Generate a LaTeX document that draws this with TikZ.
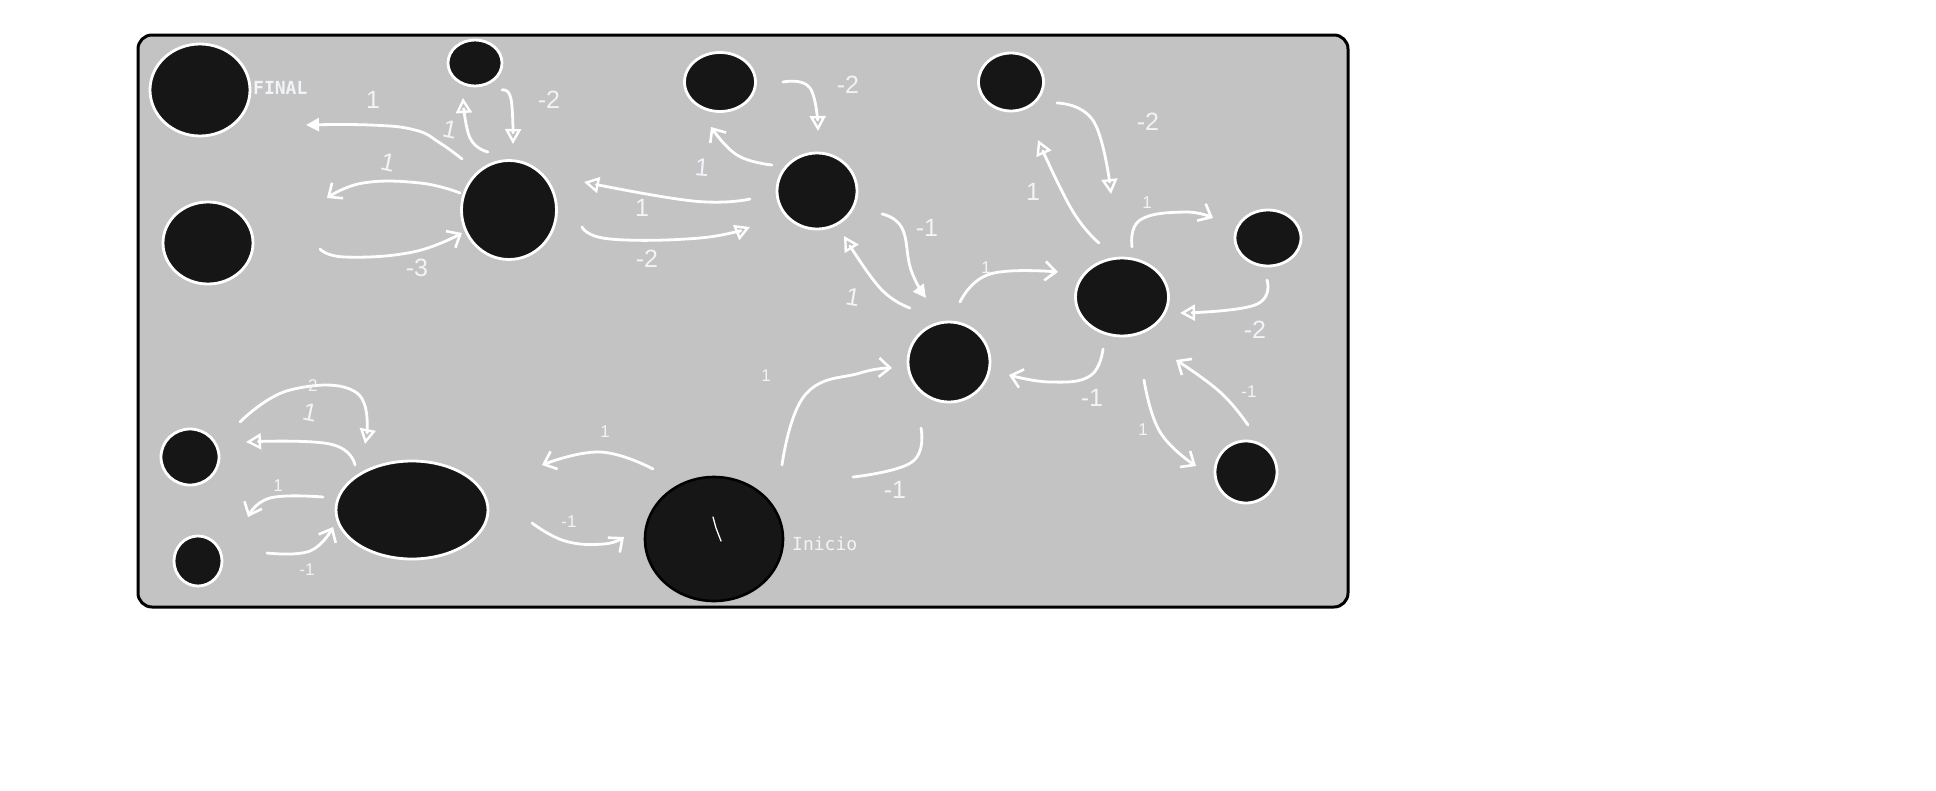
\documentclass[tikz,border=0pt]{standalone}
\usepackage{fontspec}
\setmainfont{Liberation Sans}
\newfontfamily\monof{DejaVu Sans Mono}
\usetikzlibrary{shapes.geometric,arrows.meta}
\definecolor{bgc}{HTML}{C3C3C3}
\definecolor{nodec}{HTML}{161616}
\definecolor{labc}{HTML}{F2F4F8}
\tikzset{
  stnode/.style={ellipse, draw=white, line width=2.8pt, fill=nodec, inner sep=0pt},
  wire/.style={draw=white, line width=2.8pt, line cap=round, line join=round},
  tipopen/.style={-{Triangle[open,length=15pt,width=16pt,line width=2.4pt]}},
  tipfill/.style={-{Triangle[length=13pt,width=13pt]}},
  tipbarb/.style={-{Straight Barb[length=11pt,width=19pt,line width=2.6pt]}},
  hand/.style={text=labc, font=\fontsize{25}{27}\selectfont, inner sep=0pt},
  typed/.style={text=labc, font=\fontsize{17}{19}\selectfont, inner sep=0pt},
  tag/.style={text=labc, font=\monof\fontsize{18}{20}\selectfont, inner sep=0pt}
}
\begin{document}
\begin{tikzpicture}[x=1pt,y=-1pt]
\useasboundingbox (0,0) rectangle (1936,790);
\fill[white] (0,0) rectangle (1936,790);
\draw[black, line width=3pt, fill=bgc, rounded corners=14pt] (138,35) rectangle (1348,607);

% nodes
\node[stnode, minimum width=100pt, minimum height=92pt] (fin) at (200,90) {};
\node[stnode, minimum width=90pt, minimum height=82pt] (l2) at (208,243) {};
\node[stnode, minimum width=54pt, minimum height=46pt] (atop) at (475,63) {};
\node[stnode, minimum width=95pt, minimum height=99pt] (A) at (509,210) {};
\node[stnode, minimum width=71pt, minimum height=59pt] (btop) at (720,82) {};
\node[stnode, minimum width=80pt, minimum height=76pt] (B) at (817,191) {};
\node[stnode, minimum width=65pt, minimum height=58pt] (ctop) at (1011,82) {};
\node[stnode, minimum width=93pt, minimum height=78pt] (C) at (1122,297) {};
\node[stnode, minimum width=66pt, minimum height=56pt] (D) at (1268,238) {};
\node[stnode, minimum width=82pt, minimum height=80pt] (E) at (949,362) {};
\node[stnode, minimum width=62pt, minimum height=62pt] (F) at (1246,472) {};
\node[stnode, minimum width=58pt, minimum height=56pt] (G) at (190,457) {};
\node[stnode, minimum width=48pt, minimum height=50pt] (H) at (198,561) {};
\node[stnode, minimum width=152pt, minimum height=98pt] (I) at (412,510) {};
\node[ellipse, draw=black, line width=2.6pt, fill=nodec, inner sep=0pt, minimum width=138pt, minimum height=124pt] (ini) at (714,539) {};
\coordinate (s0) at (713,517); \coordinate (s1) at (721,541);
\draw[white, line width=1.3pt, line cap=round] (s0) -- (716,528) -- (s1);

% tags
\node[tag, font=\monof\bfseries\fontsize{18}{20}\selectfont, anchor=west] (tfin) at (253,88) {FINAL};
\node[tag, anchor=west] (tini) at (792,544) {Inicio};

% connector end points
\coordinate (a1s) at (462,159); \coordinate (a1e) at (306,125);
\coordinate (a2s) at (488,152); \coordinate (a2e) at (463,98);
\coordinate (a3s) at (502,90);  \coordinate (a3e) at (513,144);
\coordinate (a4s) at (460,193); \coordinate (a4e) at (327,198);
\coordinate (a5s) at (320,249); \coordinate (a5e) at (462,233);
\coordinate (a6s) at (772,165); \coordinate (a6e) at (711,127);
\coordinate (a7s) at (783,82);  \coordinate (a7e) at (818,131);
\coordinate (a8s) at (750,199); \coordinate (a8e) at (584,182);
\coordinate (a9s) at (582,227); \coordinate (a9e) at (750,227);
\coordinate (a10s) at (882,214); \coordinate (a10e) at (926,298);
\coordinate (a11s) at (910,308); \coordinate (a11e) at (844,236);
\coordinate (a12s) at (1099,243); \coordinate (a12e) at (1038,140);
\coordinate (a13s) at (1057,103); \coordinate (a13e) at (1111,194);
\coordinate (a14s) at (1132,247); \coordinate (a14e) at (1213,218);
\coordinate (a15s) at (1267,280); \coordinate (a15e) at (1180,313);
\coordinate (a16s) at (960,302); \coordinate (a16e) at (1058,272);
\coordinate (a17s) at (1103,349); \coordinate (a17e) at (1009,375);
\coordinate (a18s) at (1144,380); \coordinate (a18e) at (1196,466);
\coordinate (a19s) at (1248,425); \coordinate (a19e) at (1176,360);
\coordinate (a20s) at (782,465); \coordinate (a20e) at (892,368);
\coordinate (a21s) at (921,428); \coordinate (a21e) at (853,477);
\coordinate (a22s) at (653,469); \coordinate (a22e) at (542,465);
\coordinate (a23s) at (532,523); \coordinate (a23e) at (624,537);
\coordinate (a24s) at (240,422); \coordinate (a24e) at (365,444);
\coordinate (a25s) at (355,465); \coordinate (a25e) at (246,442);
\coordinate (a26s) at (323,497); \coordinate (a26e) at (248,517);
\coordinate (a27s) at (267,553); \coordinate (a27e) at (333,527);

% connectors
\begin{scope}[smooth, tension=0.75]
\draw[wire, tipfill] plot[smooth] coordinates {(a1s) (440,143) (415,130) (370,125) (a1e)};
\draw[wire, tipopen] plot[smooth] coordinates {(a2s) (470,138) (a2e)};
\draw[wire, tipopen] plot[smooth] coordinates {(a3s) (511,99) (a3e)};
\draw[wire, tipbarb] plot[smooth] coordinates {(a4s) (420,183) (363,183) (a4e)};
\draw[wire, tipbarb] plot[smooth] coordinates {(a5s) (345,257) (413,252) (a5e)};
\draw[wire, tipbarb] plot[smooth] coordinates {(a6s) (737,155) (a6e)};
\draw[wire, tipopen] plot[smooth] coordinates {(a7s) (810,88) (a7e)};
\draw[wire, tipopen] plot[smooth] coordinates {(a8s) (693,201) (a8e)};
\draw[wire, tipopen] plot[smooth] coordinates {(a9s) (610,239) (700,238) (a9e)};
\draw[wire, tipfill] plot[smooth] coordinates {(a10s) (902,228) (911,270) (a10e)};
\draw[wire, tipopen] plot[smooth] coordinates {(a11s) (880,288) (a11e)};
\draw[wire, tipopen] plot[smooth] coordinates {(a12s) (1072,210) (a12e)};
\draw[wire, tipopen] plot[smooth] coordinates {(a13s) (1094,122) (a13e)};
\draw[wire, tipbarb] plot[smooth] coordinates {(a14s) (1140,220) (1185,212) (a14e)};
\draw[wire, tipopen] plot[smooth] coordinates {(a15s) (1255,305) (a15e)};
\draw[wire, tipbarb] plot[smooth] coordinates {(a16s) (990,274) (a16e)};
\draw[wire, tipbarb] plot[smooth] coordinates {(a17s) (1090,376) (1050,382) (a17e)};
\draw[wire, tipbarb] plot[smooth] coordinates {(a18s) (1160,432) (a18e)};
\draw[wire, tipbarb] plot[smooth] coordinates {(a19s) (1220,392) (a19e)};
\draw[wire, tipbarb] plot[smooth] coordinates {(a20s) (805,395) (860,373) (a20e)};
\draw[wire] plot[smooth] coordinates {(a21s) (912,462) (a21e)};
\draw[wire, tipbarb] plot[smooth] coordinates {(a22s) (600,452) (a22e)};
\draw[wire, tipbarb] plot[smooth] coordinates {(a23s) (565,541) (604,544) (a23e)};
\draw[wire, tipopen] plot[smooth] coordinates {(a24s) (290,390) (357,393) (a24e)};
\draw[wire, tipopen] plot[smooth] coordinates {(a25s) (330,444) (a25e)};
\draw[wire, tipbarb] plot[smooth] coordinates {(a26s) (270,498) (a26e)};
\draw[wire, tipbarb] plot[smooth] coordinates {(a27s) (310,551) (a27e)};
\end{scope}

% hand labels
\node[hand] (h1) at (373,100) {1};
\node[hand, rotate=-12] (h2) at (450,130) {1};
\node[hand] (h3) at (549,100) {-2};
\node[hand, rotate=-12] (h4) at (388,163) {1};
\node[hand] (h5) at (417,268) {-3};
\node[hand, rotate=-5] (h6) at (702,168) {1};
\node[hand] (h7) at (848,85) {-2};
\node[hand] (h8) at (642,208) {1};
\node[hand] (h9) at (647,259) {-2};
\node[hand] (h10) at (927,228) {-1};
\node[hand, rotate=-10] (h11) at (853,297) {1};
\node[hand] (h12) at (1033,192) {1};
\node[hand] (h13) at (1148,122) {-2};
\node[hand] (h14) at (1255,330) {-2};
\node[hand] (h15) at (1092,398) {-1};
\node[hand] (h16) at (895,490) {-1};
\node[hand, rotate=-12] (h17) at (310,413) {1};
% typed labels
\node[typed] (t1) at (1147,203) {1};
\node[typed] (t2) at (986,268) {1};
\node[typed] (t3) at (1143,430) {1};
\node[typed] (t4) at (1249,392) {-1};
\node[typed] (t5) at (766,376) {1};
\node[typed] (t6) at (605,432) {1};
\node[typed] (t7) at (569,522) {-1};
\node[typed] (t8) at (310,386) {-2};
\node[typed] (t9) at (278,486) {1};
\node[typed] (t10) at (307,570) {-1};
\end{tikzpicture}
\end{document}
